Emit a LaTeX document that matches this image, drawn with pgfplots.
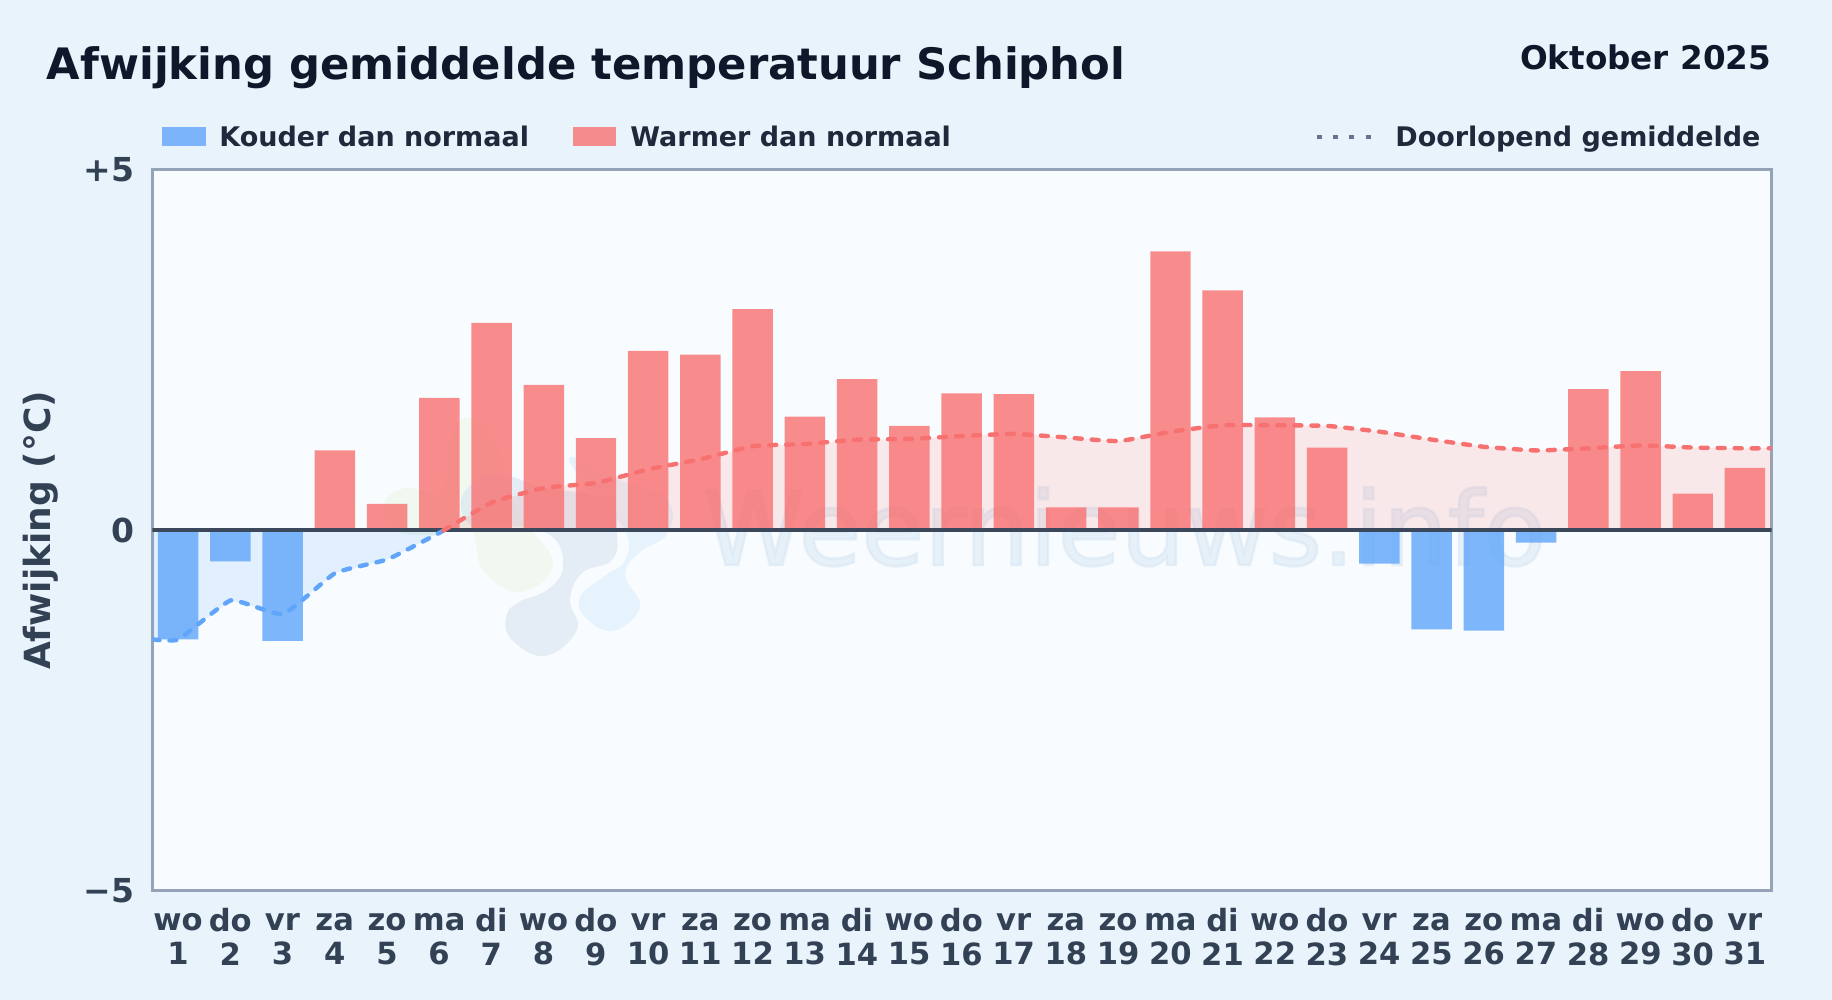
\documentclass[border=0pt]{standalone}
\usepackage{pgfplots}
\pgfplotsset{compat=1.18}
\usepackage{pgfplotstable}
\usepackage{fontspec}
\setmainfont{DejaVu Sans}
\newfontfamily\wmfont[FakeBold=2.5]{DejaVu Sans}
\definecolor{pagebg}{HTML}{E8F3FC}
\definecolor{plotbg}{HTML}{F8FCFF}
\definecolor{frame}{HTML}{94A3B8}
\definecolor{ink}{HTML}{0F172A}
\definecolor{legink}{HTML}{1E293B}
\definecolor{tickink}{HTML}{334155}
\definecolor{zeroline}{HTML}{3B485C}
\definecolor{cold}{HTML}{60A5FA}
\definecolor{warm}{HTML}{F87171}
\definecolor{wmyellow}{HTML}{E9F5E0}
\definecolor{wmgray}{HTML}{DCE8F3}
\definecolor{wmblue}{HTML}{E0F0FC}
\definecolor{wmtext}{HTML}{D6E6F3}
\definecolor{legdots}{HTML}{64748B}
\pgfplotstableread{
x y
1 -1.51
2 -0.43
3 -1.53
24 -0.46
25 -1.37
26 -1.39
27 -0.17
}\coldtable
\pgfplotstableread{
x y
4 1.11
5 0.37
6 1.84
7 2.88
8 2.02
9 1.28
10 2.49
11 2.44
12 3.07
13 1.58
14 2.10
15 1.45
16 1.90
17 1.89
18 0.32
19 0.32
20 3.87
21 3.33
22 1.57
23 1.15
28 1.96
29 2.21
30 0.51
31 0.87
}\warmtable
\pgfplotstableread{
x y
0.5 -1.51
1 -1.51
2 -0.97
3 -1.16
4 -0.59
5 -0.40
6 -0.03
6.07 0
}\coldmean
\pgfplotstableread{
x y
6.07 0
7 0.39
8 0.59
9 0.66
10 0.85
11 0.99
12 1.17
13 1.20
14 1.26
15 1.27
16 1.31
17 1.34
18 1.29
19 1.24
20 1.37
21 1.46
22 1.46
23 1.45
24 1.37
25 1.26
26 1.16
27 1.11
28 1.14
29 1.18
30 1.15
31 1.14
31.5 1.14
}\warmmean
\begin{document}
\begin{tikzpicture}
\useasboundingbox (0,0) rectangle (916pt,500pt);
\fill[pagebg] (0,0) rectangle (916pt,500pt);
\begin{scope}[x=0.5pt,y=-0.5pt,yshift=500pt]
\fill[plotbg] (152.5,170) rectangle (1771.5,891);
% watermark
\begin{scope}
\clip (152.5,170) rectangle (1771.5,891);
\fill[color=wmyellow,opacity=0.5] plot[smooth cycle,tension=0.7] coordinates {(383,505) (405,488) (440,490) (450,440) (465,418) (490,430) (505,470) (520,515) (553,563) (520,592) (483,570) (470,530) (430,535) (395,530)};
\fill[color=wmgray,opacity=0.7] plot[smooth cycle,tension=0.7] coordinates {(462,497) (487,475) (513,477) (540,487) (607,500) (617,533) (612,560) (582,573) (570,600) (577,630) (545,656) (512,640) (506,618) (517,603) (547,590) (563,567) (550,535) (500,525) (470,525)};
\fill[color=wmblue,opacity=0.7] plot[smooth cycle,tension=0.7] coordinates {(570,457) (620,480) (667,500) (668,533) (640,552) (625,575) (640,607) (613,631) (585,617) (580,597) (603,577) (625,560) (625,530) (590,490)};
\node[anchor=base west,inner sep=0pt,text=wmtext,opacity=0.5,font=\fontsize{51.1}{50}\selectfont\wmfont] at (703,565) {Weernieuws.info};
\end{scope}
\end{scope}
\begin{axis}[
  at={(76.25pt,54.5pt)},anchor=south west,
  width=809.5pt,height=360.5pt,scale only axis,
  xmin=0.5,xmax=31.5,ymin=-5,ymax=5,
  xtick={1,...,31},
  xticklabels={
   {\rule{0pt}{11.5pt}wo\\1},{\rule{0pt}{11.5pt}do\\2},{\rule{0pt}{11.5pt}vr\\3},{\rule{0pt}{11.5pt}za\\4},{\rule{0pt}{11.5pt}zo\\5},{\rule{0pt}{11.5pt}ma\\6},{\rule{0pt}{11.5pt}di\\7},
   {\rule{0pt}{11.5pt}wo\\8},{\rule{0pt}{11.5pt}do\\9},{\rule{0pt}{11.5pt}vr\\10},{\rule{0pt}{11.5pt}za\\11},{\rule{0pt}{11.5pt}zo\\12},{\rule{0pt}{11.5pt}ma\\13},{\rule{0pt}{11.5pt}di\\14},
   {\rule{0pt}{11.5pt}wo\\15},{\rule{0pt}{11.5pt}do\\16},{\rule{0pt}{11.5pt}vr\\17},{\rule{0pt}{11.5pt}za\\18},{\rule{0pt}{11.5pt}zo\\19},{\rule{0pt}{11.5pt}ma\\20},{\rule{0pt}{11.5pt}di\\21},
   {\rule{0pt}{11.5pt}wo\\22},{\rule{0pt}{11.5pt}do\\23},{\rule{0pt}{11.5pt}vr\\24},{\rule{0pt}{11.5pt}za\\25},{\rule{0pt}{11.5pt}zo\\26},{\rule{0pt}{11.5pt}ma\\27},{\rule{0pt}{11.5pt}di\\28},
   {\rule{0pt}{11.5pt}wo\\29},{\rule{0pt}{11.5pt}do\\30},{\rule{0pt}{11.5pt}vr\\31}},
  ytick={-5,0,5},
  yticklabels={−5,0,+5},
  major tick length=0pt,
  tick style={draw=none},
  axis line style={draw=frame,line width=1.5pt},
  xticklabel style={align=center,font=\fontsize{15.3}{17}\selectfont\bfseries,text=tickink,inner sep=0pt,anchor=north,yshift=-8.3pt,xshift=-0.3pt},
  yticklabel style={font=\fontsize{16.5}{16.5}\selectfont\bfseries,text=tickink,inner sep=0pt,anchor=east,xshift=-9pt},
  ylabel={Afwijking (°C)},
  ylabel style={font=\fontsize{18}{18}\selectfont\bfseries,text=tickink,at={(axis description cs:-0.0692,0.5)},anchor=center},
]
\addplot[draw=none,fill=cold,fill opacity=0.15] table[x=x,y=y] {\coldmean} -- (axis cs:0.5,0) -- cycle;
\addplot[draw=none,fill=warm,fill opacity=0.14] table[x=x,y=y] {\warmmean} -- (axis cs:31.5,0) -- cycle;
\addplot[ybar,bar width=0.775,bar shift=-0.008,draw=none,fill=cold,fill opacity=0.8] table[x=x,y=y] {\coldtable};
\addplot[ybar,bar width=0.775,bar shift=-0.008,draw=none,fill=warm,fill opacity=0.8] table[x=x,y=y] {\warmtable};
\addplot[zeroline,line width=2pt,forget plot] coordinates {(0.5,0) (31.5,0)};
\addplot[cold,line width=2.2pt,line cap=round,dash pattern=on 3.5pt off 5pt,smooth,tension=0.25,mark=none] table[x=x,y=y] {\coldmean};
\addplot[warm,line width=2.2pt,line cap=round,dash pattern=on 3.5pt off 5pt,smooth,tension=0.25,mark=none] table[x=x,y=y] {\warmmean};
\end{axis}
\begin{scope}[x=0.5pt,y=-0.5pt,yshift=500pt]
\node[anchor=base west,inner sep=0pt,text=ink,font=\fontsize{21.65}{21.65}\selectfont\bfseries] at (46.5,80) {Afwijking gemiddelde temperatuur Schiphol};
\node[anchor=base east,inner sep=0pt,text=ink,font=\fontsize{16.3}{16.3}\selectfont\bfseries] at (1771.5,70) {Oktober 2025};
\fill[cold,opacity=0.8] (162,127) rectangle (206,146);
\node[anchor=base west,inner sep=0pt,text=legink,font=\fontsize{13.5}{13.5}\selectfont\bfseries] at (219,146.5) {Kouder dan normaal};
\fill[warm,opacity=0.8] (573,127) rectangle (616,146);
\node[anchor=base west,inner sep=0pt,text=legink,font=\fontsize{13.5}{13.5}\selectfont\bfseries] at (630,146.5) {Warmer dan normaal};
\draw[color=legdots,line width=2pt,dash pattern=on 2.5pt off 5.6pt] (1317,136.7) -- (1374,136.7);
\node[anchor=base west,inner sep=0pt,text=legink,font=\fontsize{13.5}{13.5}\selectfont\bfseries] at (1395,146.5) {Doorlopend gemiddelde};
\end{scope}
\end{tikzpicture}
\end{document}
